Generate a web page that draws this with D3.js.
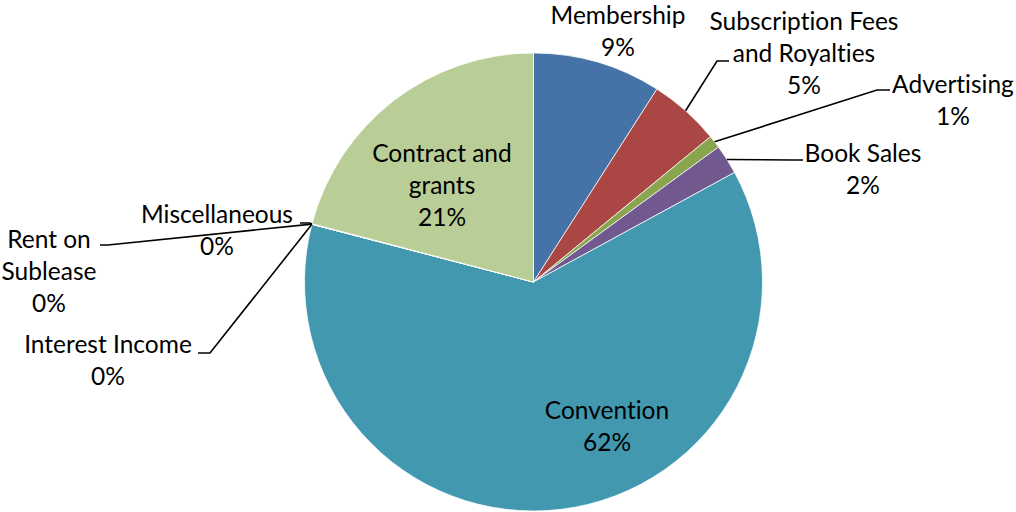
<!DOCTYPE html>
<html>
<head>
<meta charset="utf-8">
<script src="https://cdn.jsdelivr.net/npm/d3@7/dist/d3.min.js"></script>
<style>
  html, body { margin: 0; padding: 0; background: #fff; }
  svg text { font-family: Lato, "Open Sans", sans-serif; fill: #000; font-variant-ligatures: none; font-feature-settings: "liga" 0, "dlig" 0; }
</style>
</head>
<body>
<svg id="chart" width="1016" height="512"></svg>
<script>
// Revenue sources, share of total (%), clockwise from 12 o'clock
const categories = [
  "Membership", "Subscription Fees and Royalties", "Advertising", "Book Sales",
  "Convention", "Interest Income", "Rent on Sublease", "Miscellaneous", "Contract and grants"
];
const shares = [9.06, 5.0, 0.91, 2.09, 61.99, 0.01, 0.01, 0.03, 20.9];
const sliceColors = [
  "#4572A7", "#AA4643", "#89A54E", "#71588F",
  "#4198AF", "#DB843D", "#93A9CF", "#D19392", "#B9CD96"
];

// Label text lines (category name wrapped as displayed)
const labelLines = {
  "Membership": ["Membership"],
  "Subscription Fees and Royalties": ["Subscription Fees", "and Royalties"],
  "Advertising": ["Advertising"],
  "Book Sales": ["Book Sales"],
  "Convention": ["Convention"],
  "Interest Income": ["Interest Income"],
  "Rent on Sublease": ["Rent on", "Sublease"],
  "Miscellaneous": ["Miscellaneous"],
  "Contract and grants": ["Contract and", "grants"]
};

// Label layout: text block centre x, first baseline y, and leader line end (if any)
const labelLayout = {
  "Membership": { x: 618, y: 24 },
  "Subscription Fees and Royalties": { x: 804, y: 30, leader: [[717, 61], [729, 61]] },
  "Advertising": { x: 953, y: 93, leader: [[877, 90], [890, 90]] },
  "Book Sales": { x: 863, y: 162, leader: [[791, 160], [803, 160]] },
  "Convention": { x: 607, y: 419 },
  "Interest Income": { x: 108, y: 353, leader: [[210, 353], [198, 353]] },
  "Rent on Sublease": { x: 49, y: 248, leader: [[108, 245], [100, 245]] },
  "Miscellaneous": { x: 217, y: 223, leader: [[310, 223], [300, 223]] },
  "Contract and grants": { x: 442, y: 162 }
};

const cx = 533.5, cy = 282, radius = 229;
const lineGap = 32;
const fontSize = 24.5;

const data = categories.map((c, i) => ({ name: c, value: shares[i], color: sliceColors[i] }));

const svg = d3.select("#chart");
const g = svg.append("g").attr("transform", `translate(${cx},${cy})`);

const pie = d3.pie().sort(null).value(d => d.value);
const arc = d3.arc().innerRadius(0).outerRadius(radius);
const arcs = pie(data);

g.selectAll("path.slice")
  .data(arcs)
  .join("path")
  .attr("class", "slice")
  .attr("d", arc)
  .attr("fill", d => d.data.color)
  .attr("stroke", "#fff")
  .attr("stroke-width", 0.75);

// Leader lines from the middle of each slice's outer edge
const edgePoint = d => {
  const a = (d.startAngle + d.endAngle) / 2;
  return [cx + radius * Math.sin(a), cy - radius * Math.cos(a)];
};

const line = d3.line();
svg.selectAll("path.leader")
  .data(arcs.filter(d => labelLayout[d.data.name].leader))
  .join("path")
  .attr("class", "leader")
  .attr("d", d => line([edgePoint(d), ...labelLayout[d.data.name].leader]))
  .attr("fill", "none")
  .attr("stroke", "#000")
  .attr("stroke-width", 1.6);

// Category and percentage labels
const labels = svg.selectAll("text.label")
  .data(arcs)
  .join("text")
  .attr("class", "label")
  .attr("text-anchor", "middle")
  .attr("font-size", fontSize);

labels.each(function (d) {
  const pos = labelLayout[d.data.name];
  const lines = [...labelLines[d.data.name], Math.round(d.data.value) + "%"];
  d3.select(this).selectAll("tspan")
    .data(lines)
    .join("tspan")
    .attr("x", pos.x)
    .attr("y", (t, i) => pos.y + i * lineGap)
    .text(t => t);
});
</script>
</body>
</html>
